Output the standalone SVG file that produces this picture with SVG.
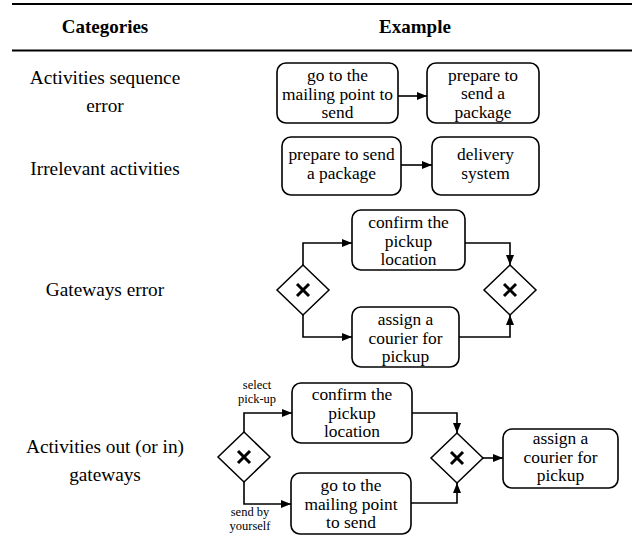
<svg xmlns="http://www.w3.org/2000/svg" width="637" height="544" viewBox="0 0 637 544" font-family="'Liberation Serif', 'DejaVu Serif', serif">
<defs>
<marker id="arr" viewBox="0 0 10 8" refX="10" refY="4" markerWidth="10" markerHeight="8" markerUnits="userSpaceOnUse" orient="auto">
<path d="M0,0 L10,4 L0,8 z" fill="#000"/>
</marker>
<style>
text{font-family:'Liberation Serif','DejaVu Serif',serif;fill:#000}
.hd{font-size:19px;font-weight:bold;text-anchor:middle}
.cat{font-size:19.3px;text-anchor:middle}
.bt{font-size:17.4px;text-anchor:middle}
.sm{font-size:12.5px;text-anchor:middle}
.box{fill:#fff;stroke:#000;stroke-width:1.6}
.gw{fill:#fff;stroke:#000;stroke-width:1.5}
.xm{stroke:#000;stroke-width:3;stroke-linecap:butt}
.rule{stroke:#000;stroke-width:2}
.con{fill:none;stroke:#000;stroke-width:1.6;marker-end:url(#arr)}
</style>
</defs>
<rect width="637" height="544" fill="#fff"/>
<g id="table">
<line class="rule" x1="12" y1="4" x2="632" y2="4"/>
<line class="rule" x1="12" y1="50.5" x2="632" y2="50.5"/>
<text class="hd" x="105" y="33">Categories</text>
<text class="hd" x="415" y="33">Example</text>
<text class="cat" x="105" y="84">Activities sequence</text>
<text class="cat" x="105" y="112">error</text>
<text class="cat" x="105" y="175">Irrelevant activities</text>
<text class="cat" x="105" y="296">Gateways error</text>
<text class="cat" x="105" y="453">Activities out (or in)</text>
<text class="cat" x="105" y="481">gateways</text>
</g>
<g id="connectors">
<line class="con" x1="398" y1="96" x2="427" y2="96"/>
<line class="con" x1="401" y1="165" x2="432" y2="165"/>
<polyline class="con" points="303,265 303,243 352,243"/>
<polyline class="con" points="303,315 303,337 352,337"/>
<polyline class="con" points="465,243 510,243 510,265"/>
<polyline class="con" points="459,337 510,337 510,315"/>
<polyline class="con" points="244,432 244,413 292,413"/>
<polyline class="con" points="244,482 244,504 291,504"/>
<polyline class="con" points="412,413 457,413 457,433"/>
<polyline class="con" points="411,503 457,503 457,483"/>
<line class="con" x1="483" y1="458" x2="503" y2="458"/>
<text class="sm" x="257" y="389">select</text>
<text class="sm" x="257" y="403">pick-up</text>
<text class="sm" x="250" y="516">send by</text>
<text class="sm" x="250" y="530">yourself</text>
</g>
<g id="n1">
<rect class="box" x="277" y="63" width="121" height="60" rx="9"/>
<text class="bt" x="337.5" y="81">go to the</text>
<text class="bt" x="337.5" y="99.5">mailing point to</text>
<text class="bt" x="337.5" y="118">send</text>
</g>
<g id="n2">
<rect class="box" x="427" y="63" width="112" height="60" rx="9"/>
<text class="bt" x="483" y="80.5">prepare to</text>
<text class="bt" x="483" y="99">send a</text>
<text class="bt" x="483" y="117.5">package</text>
</g>
<g id="n3">
<rect class="box" x="282" y="137" width="119" height="58" rx="9"/>
<text class="bt" x="341.5" y="160">prepare to send</text>
<text class="bt" x="341.5" y="178.5">a package</text>
</g>
<g id="n4">
<rect class="box" x="432" y="137" width="107" height="58" rx="9"/>
<text class="bt" x="485.5" y="160">delivery</text>
<text class="bt" x="485.5" y="178.5">system</text>
</g>
<g id="g1">
<polygon class="gw" points="303,265 329,290 303,315 277,290"/>
<line class="xm" x1="297" y1="284" x2="309" y2="296"/>
<line class="xm" x1="309" y1="284" x2="297" y2="296"/>
</g>
<g id="n5">
<rect class="box" x="352" y="210" width="113" height="60" rx="9"/>
<text class="bt" x="408.5" y="228">confirm the</text>
<text class="bt" x="408.5" y="246.5">pickup</text>
<text class="bt" x="408.5" y="265">location</text>
</g>
<g id="n6">
<rect class="box" x="352" y="307" width="107" height="60" rx="9"/>
<text class="bt" x="405.5" y="325">assign a</text>
<text class="bt" x="405.5" y="343.5">courier for</text>
<text class="bt" x="405.5" y="362">pickup</text>
</g>
<g id="g2">
<polygon class="gw" points="510,265 536,290 510,315 484,290"/>
<line class="xm" x1="504" y1="284" x2="516" y2="296"/>
<line class="xm" x1="516" y1="284" x2="504" y2="296"/>
</g>
<g id="g3">
<polygon class="gw" points="244,432 270,457 244,482 218,457"/>
<line class="xm" x1="238" y1="451" x2="250" y2="463"/>
<line class="xm" x1="250" y1="451" x2="238" y2="463"/>
</g>
<g id="n7">
<rect class="box" x="292" y="383" width="120" height="60" rx="9"/>
<text class="bt" x="352" y="400">confirm the</text>
<text class="bt" x="352" y="418.5">pickup</text>
<text class="bt" x="352" y="437">location</text>
</g>
<g id="n8">
<rect class="box" x="291" y="473" width="120" height="61" rx="9"/>
<text class="bt" x="351" y="491">go to the</text>
<text class="bt" x="351" y="509.5">mailing point</text>
<text class="bt" x="351" y="528">to send</text>
</g>
<g id="g4">
<polygon class="gw" points="457,433 483,458 457,483 431,458"/>
<line class="xm" x1="451" y1="452" x2="463" y2="464"/>
<line class="xm" x1="463" y1="452" x2="451" y2="464"/>
</g>
<g id="n9">
<rect class="box" x="503" y="429" width="115" height="59" rx="9"/>
<text class="bt" x="560.5" y="444">assign a</text>
<text class="bt" x="560.5" y="462.5">courier for</text>
<text class="bt" x="560.5" y="481">pickup</text>
</g>
</svg>
